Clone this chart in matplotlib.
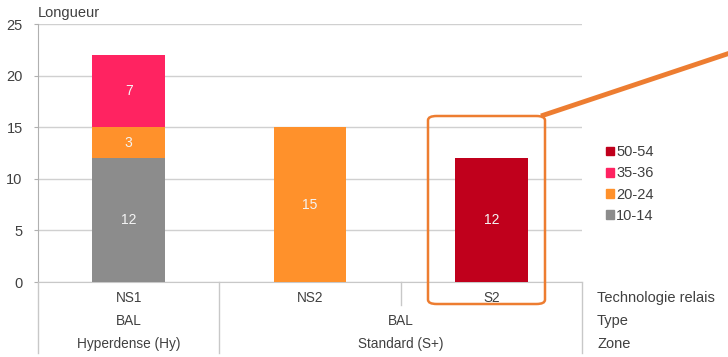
import matplotlib
matplotlib.use("Agg")
import matplotlib.pyplot as plt
from matplotlib.patches import FancyBboxPatch, Patch
from matplotlib.lines import Line2D

plt.rcParams['font.family'] = ['Liberation Sans', 'DejaVu Sans']

categories = ["NS1", "NS2", "S2"]
types = ["BAL", "BAL"]
zones = ["Hyperdense (Hy)", "Standard (S+)"]
series_names = ["10-14", "20-24", "35-36", "50-54"]
s_10_14 = [12, 0, 0]
s_20_24 = [3, 15, 0]
s_35_36 = [7, 0, 0]
s_50_54 = [0, 0, 12]
series_vals = [s_10_14, s_20_24, s_35_36, s_50_54]
colors = ["#8c8c8c", "#ff912b", "#ff2361", "#c0001c"]
row_labels = ["Technologie relais", "Type", "Zone"]

W, H = 728, 357
fig = plt.figure(figsize=(W / 100, H / 100), dpi=100)
L, R, B, T = 38, 582, 282, 24
ax = fig.add_axes([L / W, (H - B) / H, (R - L) / W, (B - T) / H])

x = list(range(len(categories)))
bottom = [0] * len(categories)
tc = "#404040"
for name, vals, c in zip(series_names, series_vals, colors):
    ax.bar(x, vals, width=0.4, bottom=bottom, color=c, label=name, zorder=3)
    for xi, v, b in zip(x, vals, bottom):
        if v:
            ax.text(xi, b + v / 2, str(v), ha='center', va='center',
                    color='#f4f4f4', fontsize=10, zorder=4)
    bottom = [b + v for b, v in zip(bottom, vals)]

ax.set_xlim(-0.5, 2.5)
ax.set_ylim(0, 25)
ax.set_yticks(range(0, 26, 5))
ax.yaxis.grid(True, color='#d0d0d0', linewidth=1, zorder=0)
ax.set_xticks([])
for s in ['top', 'right']:
    ax.spines[s].set_visible(False)
ax.spines['left'].set_color('#b0b0b0')
ax.spines['bottom'].set_color('#c8c8c8')
ax.tick_params(axis='y', length=3, color='#b0b0b0', labelsize=10.5, labelcolor=tc, pad=8)
ax.text(0, 1.015, "Longueur", transform=ax.transAxes, ha='left', va='bottom',
        fontsize=10.5, color=tc)

def fx(px):
    return px / W
def fy(py):
    return (H - py) / H

rows_y = [298, 321, 344]
fs_cat = 9.8
for xi, c in zip(x, categories):
    xf = ax.transData.transform((xi, 0))[0] / W
    fig.text(xf, fy(rows_y[0]), c, ha='center', va='center', fontsize=fs_cat, color=tc)
fig.text(ax.transData.transform((0, 0))[0] / W, fy(rows_y[1]), types[0],
         ha='center', va='center', fontsize=fs_cat, color=tc)
fig.text(ax.transData.transform((1.5, 0))[0] / W, fy(rows_y[1]), types[1],
         ha='center', va='center', fontsize=fs_cat, color=tc)
fig.text(ax.transData.transform((0, 0))[0] / W, fy(rows_y[2]), zones[0],
         ha='center', va='center', fontsize=fs_cat, color=tc)
fig.text(ax.transData.transform((1.5, 0))[0] / W, fy(rows_y[2]), zones[1],
         ha='center', va='center', fontsize=fs_cat, color=tc)
for ry, lab in zip(rows_y, row_labels):
    fig.text(fx(597), fy(ry), lab, ha='left', va='center', fontsize=10.5, color=tc)

sep_col = '#c8c8c8'
for xd, yb in [(-0.5, 353), (0.5, 353), (1.5, 305), (2.5, 353)]:
    xp = ax.transData.transform((xd, 0))[0]
    fig.add_artist(Line2D([xp / W, xp / W], [fy(B), fy(yb)], color=sep_col, lw=1))

handles = [Patch(color=c, label=n) for n, c in zip(series_names, colors)][::-1]
fig.legend(handles=handles, loc='center left', bbox_to_anchor=(fx(593), fy(184)),
           frameon=False, fontsize=10.5, handlelength=0.55, handleheight=0.55,
           handletextpad=0.15, labelspacing=0.5, labelcolor=tc)

oc = '#ed7d31'
box = FancyBboxPatch((fx(428), fy(304)), fx(545) - fx(428), fy(116) - fy(304),
                     boxstyle="round,pad=0,rounding_size=0.012",
                     transform=fig.transFigure, fill=False, edgecolor=oc, lw=1.8,
                     zorder=10)
fig.add_artist(box)
fig.add_artist(Line2D([fx(541), fx(730)], [fy(116), fy(53)], color=oc, lw=3.5,
                      solid_capstyle='butt'))

fig.savefig("out.png", dpi=100)
